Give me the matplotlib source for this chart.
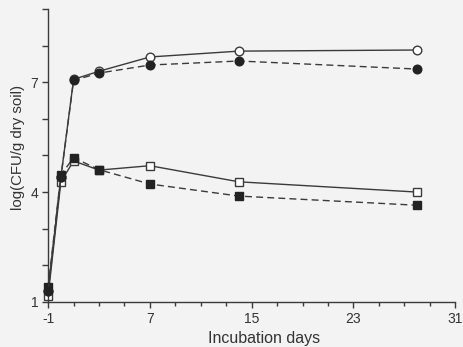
import matplotlib
matplotlib.use("Agg")
import matplotlib.pyplot as plt

plt.rcParams["font.family"] = ["Liberation Sans", "DejaVu Sans"]
plt.rcParams["axes.unicode_minus"] = False

days = [-1, 0, 1, 3, 7, 14, 28]
open_circle = [1.3, 4.4, 7.08, 7.3, 7.69, 7.85, 7.88]
filled_circle = [1.3, 4.4, 7.05, 7.25, 7.47, 7.58, 7.36]
open_square = [1.17, 4.28, 4.85, 4.6, 4.72, 4.28, 4.0]
filled_square = [1.41, 4.47, 4.94, 4.61, 4.22, 3.89, 3.64]

xticks = [-1, 7, 15, 23, 31]
yticks = [1, 2, 3, 4, 5, 6, 7, 8, 9]
ytick_labels = ["1", "", "", "4", "", "", "7", "", ""]

bg = "#f3f3f4"
fig = plt.figure(figsize=(4.63, 3.47), dpi=100, facecolor=bg)
ax = fig.add_axes([0.104, 0.130, 0.879, 0.844], facecolor=bg)

lc = "#3a3a3a"
ax.plot(days, filled_square, ls="--", color=lc, lw=1.0, marker="s", ms=6.2,
        mfc="#222222", mec="#222222", dashes=(5, 3), zorder=3, clip_on=False)
ax.plot(days, open_square, ls="-", color=lc, lw=1.0, marker="s", ms=6.2,
        mfc="white", mec=lc, zorder=2, clip_on=False)
ax.plot(days, filled_circle, ls="--", color=lc, lw=1.0, marker="o", ms=6.2,
        mfc="#222222", mec="#222222", dashes=(5, 3), zorder=3, clip_on=False)
ax.plot(days, open_circle, ls="-", color=lc, lw=1.0, marker="o", ms=6.2,
        mfc="white", mec=lc, zorder=2, clip_on=False)

ax.set_xlim(-1, 31)
ax.set_ylim(1, 9)
ax.set_xticks(xticks)
ax.set_xticks(list(range(1, 31, 2)), minor=True)
ax.set_yticks(yticks)
ax.set_yticklabels(ytick_labels)

for s in ["top", "right"]:
    ax.spines[s].set_visible(False)
for s in ["left", "bottom"]:
    ax.spines[s].set_color(lc)
    ax.spines[s].set_linewidth(1.0)

ax.tick_params(axis="both", which="major", direction="out", length=4, width=1,
               color=lc, labelsize=10, labelcolor="#333333")
ax.tick_params(axis="x", which="minor", direction="out", length=3, width=1, color=lc)
ax.tick_params(axis="y", which="major", pad=3)

ax.set_xlabel("Incubation days", fontsize=11.5, color="#333333")
ax.xaxis.set_label_coords(0.53, -0.10)
ax.set_ylabel("log(CFU/g dry soil)", fontsize=10.8, color="#333333")
ax.yaxis.set_label_coords(-0.057, 0.526)

fig.savefig("out.png", dpi=100, facecolor=bg)
